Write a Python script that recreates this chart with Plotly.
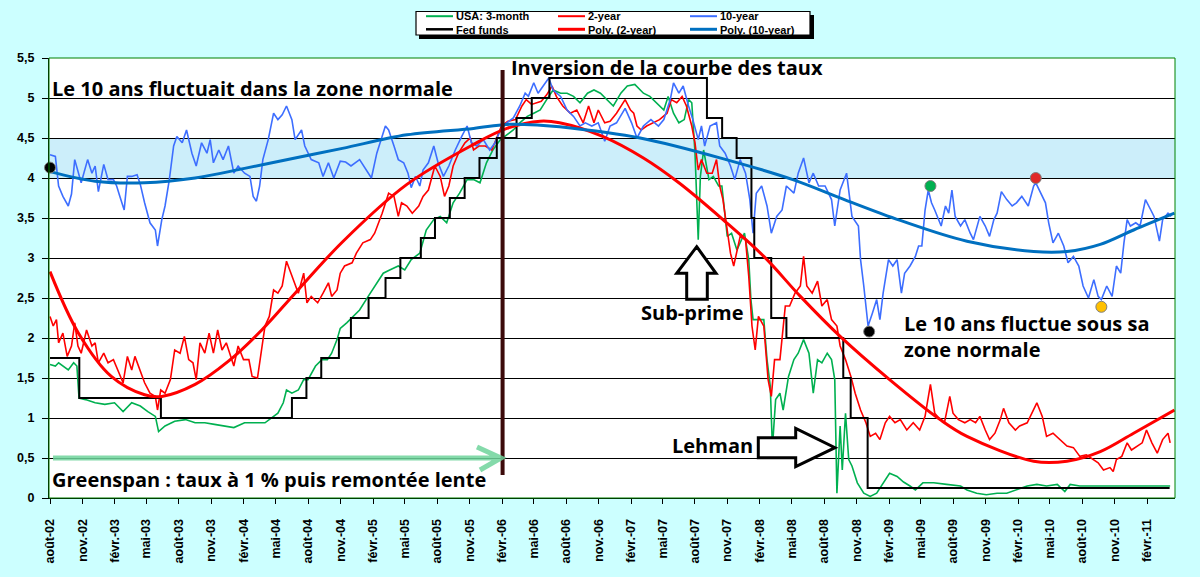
import numpy as np
import pandas as pd
import plotly.graph_objects as go

# ---------------- data (months counted from mid-Aug 2002) ----------------
t10 = [0.0,0.5,0.8,1.2,1.7,2.0,2.3,2.6,2.9,3.5,3.9,4.2,4.5,5.0,5.4,5.9,6.2,6.5,6.9,7.2,7.6,8.1,8.4,8.8,9.3,9.8,10.0,10.4,10.7,11.1,
       11.5,11.8,12.3,12.7,13.2,13.6,14.1,14.6,14.9,15.2,15.7,16.1,16.6,17.1,17.5,18.1,18.6,18.9,19.2,19.5,19.8,20.3,20.8,21.2,21.6,22.0,22.5,22.8,23.4,23.7,
       24.3,25.0,25.4,25.9,26.4,27.0,27.5,28.0,28.8,29.9,30.4,31.2,31.5,32.0,32.4,32.9,33.3,33.6,34.0,34.4,34.7,35.2,35.7,36.1,36.6,37.1,37.7,38.3,38.8,39.2,
       39.7,40.3,40.9,41.4,41.9,42.5,43.1,43.7,44.2,44.5,45.0,45.4,45.9,46.4,46.8,47.5,48.1,48.7,49.3,49.8,50.4,51.0,51.6,52.1,52.7,53.5,54.1,54.6,55.2,55.9,
       56.6,57.1,57.7,58.0,58.5,58.9,59.4,59.8,60.3,60.6,60.9,61.4,62.0,62.3,62.8,63.3,63.7,64.2,64.7,65.1,65.4,65.7,66.2,66.7,67.1,67.6,68.1,68.5,69.2,69.6,
       70.1,70.6,71.0,71.5,72.1,72.7,73.0,73.5,74.1,74.6,75.2,75.4,75.7,76.1,76.5,76.9,77.2,77.5,78.0,78.4,78.8,79.2,79.5,80.0,80.5,80.8,81.1,81.4,81.7,82.0,
       82.3,82.9,83.3,83.6,83.9,84.2,84.7,85.1,85.6,85.9,86.5,87.0,87.4,87.8,88.1,88.5,89.0,89.5,89.9,90.4,91.0,91.5,91.7,92.1,92.6,92.9,93.3,93.8,94.3,94.7,
       95.2,95.7,96.1,96.6,97.1,97.5,97.8,98.3,98.8,99.2,99.6,99.9,100.2,100.5,101.0,101.4,101.9,102.4,102.7,103.2,103.5,104.0,104.3]
y10 = [4.29,4.27,3.90,3.77,3.65,3.80,4.23,4.10,3.94,4.23,4.06,4.15,3.83,4.17,3.98,3.98,3.90,3.77,3.60,4.02,4.02,4.04,3.92,3.69,3.44,3.35,3.15,3.48,3.65,3.98,
       4.40,4.52,4.44,4.60,4.31,4.15,4.44,4.31,4.48,4.19,4.35,4.23,4.40,4.06,4.15,4.06,4.02,3.77,3.71,3.90,4.23,4.48,4.81,4.73,4.79,4.90,4.73,4.48,4.60,4.40,
       4.23,4.19,4.02,4.19,4.00,4.21,4.20,4.15,4.23,4.00,4.31,4.65,4.60,4.40,4.23,4.19,4.06,3.88,4.02,3.90,4.10,4.19,4.40,4.19,4.02,4.15,4.35,4.52,4.65,4.44,
       4.40,4.48,4.35,4.44,4.60,4.69,4.75,4.90,5.06,5.02,5.19,5.06,5.15,5.25,5.10,5.02,4.85,4.77,4.65,4.69,4.65,4.69,4.46,4.65,4.69,4.87,4.69,4.50,4.65,4.73,
       4.65,4.73,4.98,5.19,5.06,5.15,4.90,4.73,4.48,4.65,4.40,4.65,4.69,4.40,4.31,4.15,3.98,4.23,4.06,3.73,3.31,3.81,3.90,3.65,3.31,3.52,3.60,3.90,3.81,4.06,
       4.25,3.94,4.06,3.90,3.90,3.73,3.40,3.85,4.06,3.52,3.40,2.98,2.65,2.15,2.31,2.48,2.23,2.56,2.98,2.90,2.98,2.56,2.81,2.90,3.02,3.15,3.15,3.60,3.85,3.69,
       3.60,3.40,3.65,3.56,3.85,3.52,3.40,3.48,3.31,3.23,3.52,3.40,3.27,3.48,3.56,3.83,3.73,3.65,3.69,3.77,3.65,3.90,3.94,3.83,3.69,3.44,3.19,3.31,3.15,2.94,
       3.02,2.90,2.65,2.50,2.73,2.52,2.48,2.65,2.52,2.90,2.81,3.19,3.48,3.40,3.44,3.40,3.73,3.60,3.52,3.21,3.48,3.56,3.52]

t2 = [0.0,0.3,0.6,0.8,1.2,1.6,2.0,2.3,2.6,2.9,3.4,3.9,4.2,4.5,5.0,5.4,5.9,6.4,6.8,7.2,7.6,7.9,8.4,8.8,9.3,9.8,10.0,10.3,10.7,11.2,
      11.6,12.1,12.5,12.9,13.3,13.6,13.95,14.4,14.8,15.2,15.6,16.0,16.4,16.7,17.1,17.5,18.0,18.5,18.8,19.3,19.7,20.0,20.4,20.8,21.2,21.6,22.0,22.5,23.1,23.6,
      23.9,24.3,24.9,25.4,25.9,26.2,26.7,27.0,27.4,28.1,28.5,29.1,29.8,30.2,30.9,31.5,32.0,32.4,32.7,33.2,33.7,34.3,34.7,35.2,35.8,36.3,36.7,37.1,37.5,38.0,
      38.6,39.1,39.4,39.9,40.5,41.1,41.6,42.0,42.6,43.3,43.9,44.3,44.8,45.3,45.7,46.2,46.7,47.1,47.7,48.4,49.0,49.6,50.1,50.6,51.0,51.6,52.1,52.7,53.5,54.0,
      54.3,54.6,55.0,55.5,56.1,56.7,57.4,57.8,58.3,58.8,59.2,59.7,60.0,60.3,60.6,61.1,61.6,62.0,62.3,62.6,62.9,63.3,63.6,63.9,64.2,64.7,65.0,65.3,65.6,65.9,
      66.4,66.8,67.1,67.4,67.9,68.4,68.8,69.3,69.8,70.1,70.4,70.9,71.4,71.8,72.3,72.7,73.2,73.5,74.0,74.5,74.9,75.4,75.9,76.3,76.8,77.2,77.7,78.1,78.6,79.1,
      79.7,80.3,80.9,81.4,81.9,82.3,82.8,83.2,83.7,84.0,84.5,85.1,85.6,86.1,86.5,87.0,87.4,87.9,88.4,88.7,89.2,89.8,90.2,90.9,91.3,91.8,92.3,92.7,93.3,94.0,
      94.6,95.2,95.8,96.4,97.1,97.5,98.0,98.6,98.9,99.2,99.7,100.2,100.6,101.1,101.6,102.0,102.5,103.0,103.5,104.0,104.2]
y2 = [2.27,2.15,2.23,1.94,2.06,1.77,1.90,2.19,1.90,1.81,2.10,1.90,1.94,1.69,1.81,1.69,1.73,1.56,1.44,1.77,1.60,1.77,1.60,1.44,1.31,1.27,1.10,1.35,1.31,1.48,
      1.85,1.81,2.02,1.73,1.69,1.48,1.94,1.81,2.06,1.81,2.10,1.85,1.94,1.81,1.65,1.90,1.73,1.73,1.52,1.50,1.90,2.15,2.27,2.60,2.56,2.65,2.96,2.77,2.56,2.81,
      2.44,2.52,2.44,2.56,2.69,2.52,2.60,2.81,2.90,2.94,3.06,3.19,3.23,3.31,3.56,3.81,3.77,3.52,3.69,3.65,3.56,3.65,3.77,3.85,4.15,4.02,3.77,3.90,4.15,4.31,
      4.44,4.50,4.35,4.40,4.40,4.35,4.52,4.65,4.71,4.73,4.90,4.98,4.92,4.94,4.96,5.04,5.15,5.02,4.90,4.81,4.85,4.69,4.90,4.69,4.85,4.69,4.71,4.81,4.98,4.85,
      4.81,4.65,4.60,4.65,4.69,4.73,4.81,4.98,4.94,5.02,4.90,4.65,4.44,4.10,4.23,4.06,4.06,4.23,3.90,3.73,3.44,3.06,2.90,3.10,3.27,3.23,2.77,2.15,1.85,2.27,
      2.15,1.48,1.27,1.73,1.73,2.40,2.40,2.56,2.65,3.02,2.65,2.56,2.71,2.40,2.48,2.23,2.15,1.90,1.73,1.52,1.31,1.10,0.94,0.77,0.81,0.73,0.94,1.02,0.94,0.98,
      0.85,0.94,0.85,1.02,1.42,1.06,0.98,0.94,1.27,1.06,0.98,0.94,0.98,0.94,1.02,0.85,0.73,0.81,0.98,1.12,0.94,0.85,0.90,0.94,1.06,1.19,1.02,0.77,0.81,0.73,
      0.65,0.63,0.52,0.54,0.48,0.44,0.35,0.38,0.33,0.48,0.52,0.69,0.60,0.65,0.69,0.85,0.69,0.56,0.73,0.81,0.69]

t3m = [0.0,0.5,0.8,1.2,1.7,2.2,2.5,2.7,3.3,4.2,5.1,6.0,6.8,7.6,8.4,9.1,9.8,10.1,10.7,11.6,12.6,13.5,14.4,15.3,16.3,17.1,18.1,19.1,20.0,20.8,
       21.2,21.7,22.0,22.5,23.1,23.6,24.0,24.7,25.3,25.8,26.2,26.7,27.0,27.6,28.2,28.8,29.6,30.2,31.0,31.6,32.4,33.0,33.6,34.4,35.0,35.7,36.3,36.9,37.5,38.1,
       38.8,39.4,40.0,40.6,41.2,41.9,42.5,43.1,43.7,44.4,45.0,45.6,46.2,46.8,47.5,48.1,48.7,49.3,50.0,50.6,51.2,51.8,52.4,53.1,53.7,54.4,54.9,55.2,55.8,56.4,
       57.1,57.5,58.0,58.5,59.0,59.4,59.7,60.0,60.3,60.5,60.8,61.3,61.7,62.2,62.5,63.0,63.4,63.9,64.3,64.6,65.0,65.2,65.4,65.9,66.4,66.7,67.0,67.2,67.5,67.9,
       68.2,68.7,69.2,69.6,70.1,70.6,71.0,71.4,71.8,72.3,72.7,73.0,73.2,73.5,73.7,74.0,74.3,74.6,75.1,75.7,76.3,76.9,77.5,78.1,78.8,79.4,80.0,80.5,81.2,82.2,
       83.4,84.7,85.3,86.2,87.1,88.1,89.0,89.9,90.9,91.8,92.7,93.7,94.4,94.9,95.8,97.7,100.8,104.2]
y3m = [1.67,1.65,1.69,1.65,1.60,1.69,1.65,1.25,1.23,1.19,1.17,1.19,1.08,1.19,1.15,1.08,1.02,0.83,0.90,0.96,0.98,0.94,0.94,0.92,0.90,0.88,0.94,0.94,0.94,1.02,
       1.06,1.19,1.35,1.31,1.35,1.48,1.48,1.65,1.73,1.73,1.81,1.98,2.12,2.19,2.27,2.35,2.52,2.65,2.81,2.85,2.90,2.85,2.98,3.06,3.35,3.48,3.52,3.44,3.69,3.81,
       3.98,3.98,3.94,4.19,4.35,4.48,4.54,4.60,4.69,4.77,4.81,4.85,4.98,5.10,5.06,5.06,5.02,4.94,5.06,5.10,5.06,4.98,4.90,5.06,5.15,5.17,5.10,5.06,5.02,4.94,
       4.85,5.02,4.81,4.69,4.73,4.98,4.94,4.31,3.23,4.02,4.35,3.98,4.02,3.90,3.90,3.27,3.31,3.10,3.23,3.31,2.98,2.48,2.23,2.23,2.23,1.73,1.40,0.63,1.23,1.31,
       1.10,1.52,1.73,1.81,1.98,1.81,1.31,1.73,1.69,1.81,1.73,1.48,0.06,0.90,0.35,1.06,0.48,0.40,0.19,0.06,0.02,0.06,0.19,0.31,0.27,0.20,0.15,0.10,0.19,0.19,
       0.17,0.15,0.10,0.06,0.04,0.06,0.06,0.10,0.15,0.17,0.15,0.17,0.08,0.17,0.15,0.15,0.15,0.15]

fed_dates = ["2002-08-15","2002-11-06","2003-06-25","2004-06-30","2004-08-10","2004-09-21","2004-11-10","2004-12-14",
             "2005-02-02","2005-03-22","2005-05-03","2005-06-30","2005-08-09","2005-09-20","2005-11-01","2005-12-13",
             "2006-01-31","2006-03-28","2006-05-10","2006-06-29","2007-09-18","2007-10-31","2007-12-11","2008-01-22",
             "2008-01-30","2008-03-18","2008-04-30","2008-10-08","2008-10-29","2008-12-16","2011-04-20"]
fed_vals = [1.75,1.25,1.0,1.25,1.5,1.75,2.0,2.25,2.5,2.75,3.0,3.25,3.5,3.75,4.0,4.25,4.5,4.75,5.0,5.25,
            4.75,4.5,4.25,3.5,3.0,2.25,2.0,1.5,1.0,0.125,0.125]

# polynomial trendlines as drawn by the spreadsheet
poly2_t = [0, 2.65, 5.7, 8.8, 10.4, 13.5, 16.6, 19.7, 22.8, 27.2, 33.2, 39.4, 42.5, 45.6, 47.4, 51.4, 55.2, 58.5,
           62.6, 66.4, 69.8, 73.5, 78.1, 82.8, 85.3, 91.5, 94.6, 97.7, 100.8, 104.6]
poly2_v = [2.83, 2.06, 1.52, 1.29, 1.27, 1.42, 1.71, 2.10, 2.56, 3.20, 3.92, 4.42, 4.62, 4.71, 4.69, 4.52, 4.25, 3.94,
           3.48, 3.02, 2.52, 2.02, 1.48, 0.98, 0.77, 0.46, 0.46, 0.58, 0.81, 1.10]
poly10_t = [0, 4.2, 8.8, 13.5, 18.1, 22.8, 27.2, 33.2, 39.4, 42.5, 45.6, 47.4, 54.9, 62.9, 69.1, 73.9, 79.1, 85.3,
            91.5, 94.6, 97.7, 100.8, 104.6]
poly10_v = [4.08, 3.96, 3.94, 4.00, 4.12, 4.25, 4.37, 4.54, 4.62, 4.67, 4.66, 4.64, 4.50, 4.23, 3.98, 3.73, 3.47, 3.21,
            3.08, 3.08, 3.17, 3.35, 3.56]

dot_months = [0.0, 76.2, 81.9, 91.7, 97.8]
dot_values = [4.13, 2.08, 3.90, 4.00, 2.39]

inversion_month = 42.1
normal_zone = [4.0, 4.5]

series_names = ["USA: 3-month", "2-year", "10-year", "Fed funds", "Poly. (2-year)", "Poly. (10-year)"]

tick_labels = ["août-02","nov.-02","févr.-03","mai-03","août-03","nov.-03","févr.-04","mai-04","août-04","nov.-04",
               "févr.-05","mai-05","août-05","nov.-05","févr.-06","mai-06","août-06","nov.-06","févr.-07","mai-07",
               "août-07","nov.-07","févr.-08","mai-08","août-08","nov.-08","févr.-09","mai-09","août-09","nov.-09",
               "févr.-10","mai-10","août-10","nov.-10","févr.-11"]

# ---------------- helpers ----------------
ORIGIN = pd.Timestamp("2002-08-15")
DPM = 30.436875


def to_dates(months):
    return [ORIGIN + pd.Timedelta(days=float(m) * DPM) for m in months]


W, H = 1200, 577
L, R, T, B = 49, 1175, 58, 498


def px(xp):
    return (xp - L) / (R - L)


def py(yp):
    return (B - yp) / (B - T)


GREEN = "#00B050"
RED = "#FF0000"
BLUE = "#3D6EFF"
POLYBLUE = "#0070C0"

fig = go.Figure()

fig.add_trace(go.Scatter(x=to_dates(t3m), y=y3m, mode="lines", name=series_names[0],
                         line=dict(color=GREEN, width=1.6), hoverinfo="skip"))
fig.add_trace(go.Scatter(x=to_dates(t2), y=y2, mode="lines", name=series_names[1],
                         line=dict(color=RED, width=1.6), hoverinfo="skip"))
fig.add_trace(go.Scatter(x=to_dates(t10), y=y10, mode="lines", name=series_names[2],
                         line=dict(color=BLUE, width=1.6), hoverinfo="skip"))
fig.add_trace(go.Scatter(x=pd.to_datetime(fed_dates), y=fed_vals, mode="lines", name=series_names[3],
                         line=dict(color="black", width=2, shape="hv"), hoverinfo="skip"))
fig.add_trace(go.Scatter(x=to_dates(poly2_t), y=poly2_v, mode="lines", name=series_names[4],
                         line=dict(color=RED, width=3, shape="spline", smoothing=1.0), hoverinfo="skip"))
fig.add_trace(go.Scatter(x=to_dates(poly10_t), y=poly10_v, mode="lines", name=series_names[5],
                         line=dict(color=POLYBLUE, width=3, shape="spline", smoothing=1.0), hoverinfo="skip"))

fig.add_trace(go.Scatter(x=to_dates(dot_months), y=dot_values, mode="markers", cliponaxis=False,
                         marker=dict(size=11, color=["black", "black", "#00B050", "#E02828", "#FFC000"],
                                     line=dict(color="#7F7F7F", width=1)), hoverinfo="skip"))

shapes = []
shapes.append(dict(type="rect", xref="paper", yref="y", x0=0, x1=1, y0=normal_zone[0], y1=normal_zone[1],
                   fillcolor="#CCEEFA", line=dict(width=0), layer="below"))
shapes.append(dict(type="rect", xref="paper", yref="paper", x0=0, x1=1, y0=0, y1=1,
                   line=dict(color="#008000", width=1), layer="above"))
inv_date = to_dates([inversion_month])[0]
shapes.append(dict(type="line", xref="x", yref="paper", x0=inv_date, x1=inv_date, y0=py(475), y1=py(70),
                   line=dict(color="#3C0A0A", width=4), layer="above"))
arrow_path = (f"M {px(53)} {py(458)} L {px(500)} {py(458)} "
              f"M {px(477)} {py(447)} L {px(501)} {py(458)} L {px(480)} {py(470)}")
shapes.append(dict(type="path", xref="paper", yref="paper", path=arrow_path,
                   line=dict(color="rgba(110,212,155,0.85)", width=5), layer="above"))


def poly(points):
    return "M " + " L ".join(f"{px(a)} {py(b)}" for a, b in points) + " Z"


up_pts = [(696.7, 246.7), (716, 273.3), (707.3, 273.3), (707.3, 299.3), (686.7, 299.3), (686.7, 273.3), (676.7, 273.3)]
shapes.append(dict(type="path", xref="paper", yref="paper", path=poly(up_pts), fillcolor="white",
                   line=dict(color="black", width=3), layer="above"))
rt_pts = [(758.3, 437.7), (795.7, 437.7), (795.7, 428.3), (835, 447.7), (795.7, 466.7), (795.7, 457.7), (758.3, 457.7)]
shapes.append(dict(type="path", xref="paper", yref="paper", path=poly(rt_pts), fillcolor="white",
                   line=dict(color="black", width=3), layer="above"))

# legend box (drawn by hand to get the 3 x 2 layout)
shapes.append(dict(type="rect", xref="paper", yref="paper", x0=px(419), x1=px(814), y0=py(15), y1=py(39),
                   fillcolor="black", line=dict(width=0), layer="above"))
shapes.append(dict(type="rect", xref="paper", yref="paper", x0=px(416), x1=px(810), y0=py(11.5), y1=py(35),
                   fillcolor="white", line=dict(color="black", width=1.2), layer="above"))

legend_cols = [
    (426, (series_names[0], GREEN, 2), (series_names[3], "black", 2.5)),
    (558, (series_names[1], RED, 2), (series_names[4], RED, 3)),
    (690, (series_names[2], BLUE, 2), (series_names[5], POLYBLUE, 3)),
]
annotations = []
for x0, top, bot in legend_cols:
    for (name, col, lw), yc in [(top, 16.2), (bot, 29.3)]:
        shapes.append(dict(type="line", xref="paper", yref="paper", x0=px(x0), x1=px(x0 + 27), y0=py(yc), y1=py(yc),
                           line=dict(color=col, width=lw), layer="above"))
    annotations.append(dict(text=f"<b>{top[0]}</b><br><b>{bot[0]}</b>", xref="paper", yref="paper",
                            x=px(x0 + 29), y=py(22.8), xanchor="left", yanchor="middle", align="left",
                            showarrow=False, borderpad=0,
                            font=dict(family="Liberation Sans, Arial", size=11, color="black")))

TXT = dict(family="Open Sans, sans-serif", size=20, color="black")
texts = [
    ("Le 10 ans fluctuait dans la zone normale", 50, 88),
    ("Inversion de la courbe des taux", 509, 68),
    ("Greenspan : taux à 1 % puis remontée lente", 50, 479),
    ("Sub-prime", 639, 312),
    ("Lehman", 670, 445),
]
for s, x0, yc in texts:
    annotations.append(dict(text=f"<b>{s}</b>", xref="paper", yref="paper", x=px(x0), y=py(yc),
                            xanchor="left", yanchor="middle", showarrow=False, font=TXT))
annotations.append(dict(text="<b>Le 10 ans fluctue sous sa</b><br><b>zone normale</b>", xref="paper", yref="paper",
                        x=px(902), y=py(336), xanchor="left", yanchor="middle", align="left",
                        showarrow=False, font=TXT))

x_start = ORIGIN + pd.Timedelta(days=-0.093 * DPM)
x_end = ORIGIN + pd.Timedelta(days=104.65 * DPM)
tickvals = pd.date_range("2002-08-15", periods=len(tick_labels), freq=pd.DateOffset(months=3))

fig.update_layout(
    width=W, height=H, autosize=False,
    margin=dict(l=L, r=W - R, t=T, b=H - B, pad=0),
    paper_bgcolor="#CCFFFF", plot_bgcolor="white",
    showlegend=False, separators=", ",
    shapes=shapes, annotations=annotations,
    xaxis=dict(type="date", range=[x_start, x_end], tickvals=tickvals, ticktext=tick_labels,
               tickangle=-90, ticks="outside", ticklen=5, tickcolor="black", showgrid=False,
               showline=True, linecolor="black", linewidth=1, zeroline=False, ticklabelstandoff=10,
               tickfont=dict(family="Liberation Sans, Arial", size=12.5, color="black", weight="bold")),
    yaxis=dict(range=[0, 5.5], dtick=0.5, tick0=0, ticks="outside", ticklen=6, tickcolor="black",
               showgrid=True, gridcolor="black", gridwidth=1, showline=True, linecolor="black", linewidth=1,
               zeroline=False, ticklabelstandoff=5,
               tickfont=dict(family="Liberation Sans, Arial", size=12.5, color="black", weight="bold")),
)

fig.write_html("out.html", config={"displayModeBar": False},
               post_script="document.body.style.margin='0';document.body.style.background='#CCFFFF';")
